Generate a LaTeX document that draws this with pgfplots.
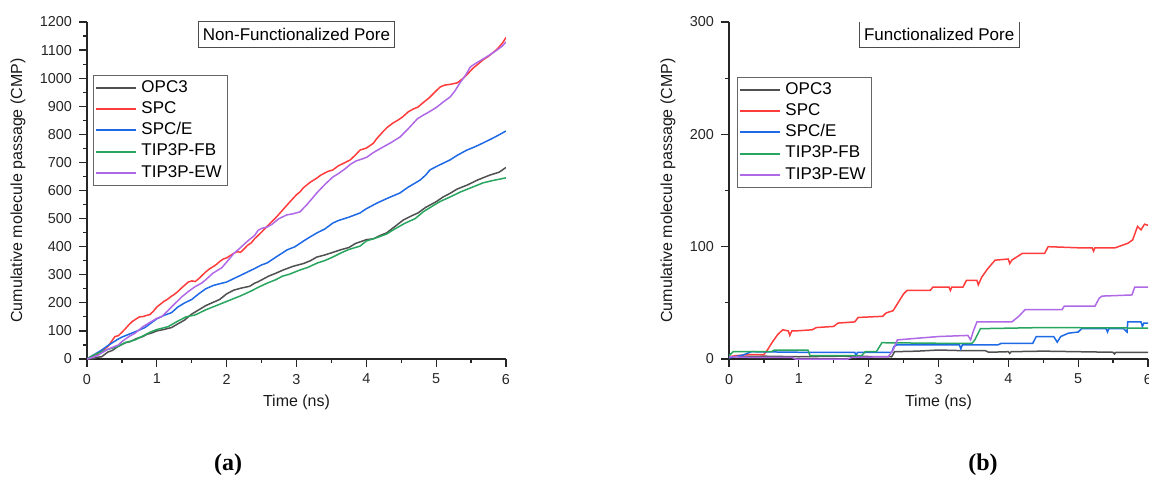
\documentclass[border=0pt]{standalone}
\usepackage{fontspec}
\setmainfont{Liberation Sans}
\newfontfamily\seriffont{Liberation Serif}
\usepackage{pgfplots}
\pgfplotsset{compat=1.18}
\definecolor{cOPC}{RGB}{80,80,80}
\definecolor{cSPC}{RGB}{255,60,60}
\definecolor{cSPCE}{RGB}{30,105,230}
\definecolor{cFB}{RGB}{40,165,95}
\definecolor{cEW}{RGB}{175,105,230}
\pgfplotsset{
 myax/.style={
  scale only axis, width=209.5pt, height=168.5pt,
  xmin=0, xmax=6, ymin=0,
  axis x line*=bottom, axis y line*=left,
  axis line style={line width=0.7pt, black!85},
  tick style={line width=0.6pt, black!85},
  tick align=outside, major tick length=4pt, minor tick length=2pt,
  xtick={0,...,6}, minor x tick num=1, minor y tick num=1,
  tick label style={font=\fontsize{7.2}{8}\selectfont, text=black!85},
  /pgf/number format/assume math mode=true,
  /pgf/number format/1000 sep={},
  xlabel={Time (ns)}, ylabel={Cumulative molecule passage (CMP)},
  label style={font=\fontsize{8}{9}\selectfont, text=black!90},
  xlabel style={at={(axis description cs:0.5,-0.128)}, anchor=center},
  legend cell align=left,
  legend image code/.code={\draw[##1, line width=1pt] (0pt,0pt) -- (20pt,0pt);},
  legend style={anchor=north west, draw=black!60, line width=0.5pt,
     font=\fontsize{8.5}{9}\selectfont, inner xsep=1pt, inner ysep=0.5pt,
     row sep=-0.9pt},
  every axis plot/.append style={line width=0.75pt, mark=none},
 }
}
\begin{document}
\begin{tikzpicture}
\useasboundingbox (0,0) rectangle (574.5pt,238.5pt);
% ---------------- (a)
\begin{axis}[myax, at={(43.5pt,59pt)}, anchor=south west,
  ymax=1200, ytick={0,100,...,1200},
  ylabel style={at={(axis description cs:-0.165,0.5)}, anchor=center},
  legend style={at={(axis description cs:0.0143,0.843)}}]
\addplot[color=cOPC] coordinates {(0,0)(0.1,2)(0.14,6)(0.21,8)(0.3,25)(0.36,30)(0.44,44)(0.55,58)(0.62,62)(0.7,72)(0.8,80)(0.86,88)(0.93,93)(1.0,100)(1.1,105)(1.21,112)(1.3,125)(1.4,139)(1.45,150)(1.5,160)(1.6,175)(1.7,190)(1.79,200)(1.9,212)(2.0,232)(2.1,245)(2.2,252)(2.33,259)(2.4,270)(2.45,275)(2.6,295)(2.7,305)(2.81,317)(2.95,330)(3.1,340)(3.2,350)(3.29,363)(3.4,370)(3.5,378)(3.62,388)(3.75,397)(3.85,412)(3.91,417)(4.0,425)(4.1,428)(4.2,440)(4.29,449)(4.4,470)(4.53,495)(4.65,510)(4.74,520)(4.85,540)(5.0,560)(5.1,577)(5.2,590)(5.3,605)(5.45,620)(5.59,637)(5.7,648)(5.77,655)(5.9,665)(6.0,682)};
\addlegendentry{OPC3}
\addplot[color=cSPC] coordinates {(0,0)(0.05,5)(0.1,12)(0.15,18)(0.2,28)(0.25,35)(0.3,45)(0.35,62)(0.4,80)(0.45,83)(0.5,95)(0.55,108)(0.6,122)(0.65,134)(0.7,142)(0.75,150)(0.8,151)(0.85,155)(0.9,158)(0.95,170)(1.0,185)(1.05,195)(1.1,205)(1.15,212)(1.2,222)(1.25,230)(1.3,240)(1.35,252)(1.4,263)(1.45,274)(1.5,278)(1.55,276)(1.6,286)(1.65,298)(1.7,310)(1.75,320)(1.8,328)(1.85,336)(1.9,347)(1.95,356)(2.0,360)(2.05,368)(2.1,376)(2.15,382)(2.2,380)(2.25,392)(2.3,405)(2.35,413)(2.4,428)(2.5,452)(2.6,478)(2.7,502)(2.8,530)(2.9,558)(3.0,585)(3.05,595)(3.1,610)(3.2,630)(3.29,644)(3.35,655)(3.45,668)(3.52,673)(3.6,688)(3.7,700)(3.77,709)(3.85,728)(3.91,744)(4.0,751)(4.1,768)(4.15,785)(4.24,810)(4.3,825)(4.38,840)(4.45,850)(4.52,862)(4.6,880)(4.67,890)(4.74,897)(4.8,910)(4.9,930)(5.0,955)(5.06,969)(5.12,975)(5.2,978)(5.3,983)(5.39,1000)(5.45,1015)(5.53,1036)(5.6,1050)(5.67,1065)(5.75,1078)(5.81,1090)(5.88,1105)(5.95,1125)(6.0,1145)};
\addlegendentry{SPC}
\addplot[color=cSPCE] coordinates {(0,0)(0.05,8)(0.1,15)(0.2,30)(0.3,48)(0.44,70)(0.5,78)(0.6,88)(0.7,98)(0.83,112)(0.9,125)(1.0,143)(1.1,155)(1.21,165)(1.3,185)(1.4,200)(1.5,212)(1.6,232)(1.7,250)(1.81,262)(1.9,268)(2.0,274)(2.09,285)(2.2,298)(2.3,310)(2.4,322)(2.5,335)(2.58,342)(2.7,362)(2.8,378)(2.86,388)(2.98,400)(3.1,420)(3.19,434)(3.3,450)(3.4,462)(3.52,484)(3.6,493)(3.75,505)(3.91,520)(4.0,535)(4.15,555)(4.3,572)(4.48,591)(4.6,612)(4.77,637)(4.85,655)(4.91,673)(5.0,685)(5.1,697)(5.2,709)(5.3,725)(5.44,744)(5.55,755)(5.67,769)(5.8,785)(5.9,798)(6.0,812)};
\addlegendentry{SPC/E}
\addplot[color=cFB] coordinates {(0,0)(0.08,12)(0.16,21)(0.25,30)(0.35,38)(0.45,45)(0.54,58)(0.69,68)(0.8,82)(0.9,95)(1.0,105)(1.16,115)(1.3,135)(1.42,150)(1.55,157)(1.7,175)(1.8,185)(1.93,198)(2.05,210)(2.2,225)(2.35,242)(2.45,255)(2.58,270)(2.7,282)(2.8,295)(2.9,302)(3.05,317)(3.15,325)(3.3,342)(3.4,350)(3.52,363)(3.64,378)(3.75,390)(3.91,402)(4.0,420)(4.15,432)(4.29,445)(4.4,462)(4.55,483)(4.7,500)(4.82,525)(4.95,545)(5.05,560)(5.2,577)(5.35,595)(5.5,610)(5.6,620)(5.67,627)(5.8,635)(5.9,640)(6.0,645)};
\addlegendentry{TIP3P-FB}
\addplot[color=cEW] coordinates {(0,0)(0.05,3)(0.1,8)(0.15,12)(0.2,20)(0.3,35)(0.4,45)(0.45,50)(0.5,62)(0.6,80)(0.69,92)(0.8,115)(0.9,130)(1.0,145)(1.07,151)(1.15,170)(1.25,195)(1.36,222)(1.45,240)(1.55,258)(1.64,270)(1.7,282)(1.8,305)(1.93,325)(2.0,345)(2.1,375)(2.2,397)(2.3,420)(2.4,440)(2.45,458)(2.5,465)(2.58,470)(2.65,480)(2.75,500)(2.86,513)(2.95,517)(3.05,524)(3.15,550)(3.29,591)(3.4,620)(3.52,648)(3.6,660)(3.7,678)(3.77,693)(3.85,705)(3.95,713)(4.01,719)(4.1,735)(4.24,755)(4.35,770)(4.48,790)(4.6,820)(4.73,855)(4.8,866)(4.9,880)(5.01,897)(5.1,915)(5.2,933)(5.27,955)(5.34,983)(5.42,1010)(5.49,1040)(5.55,1050)(5.67,1068)(5.75,1080)(5.87,1100)(5.95,1115)(6.0,1129)};
\addlegendentry{TIP3P-EW}
\node[draw=black!70, fill=white, font=\fontsize{8.5}{10}\selectfont, inner xsep=2.3pt, minimum height=12pt] at (axis cs:3,1157) {Non-Functionalized Pore};
\end{axis}
% ---------------- (b)
\begin{axis}[myax, at={(364.5pt,59pt)}, anchor=south west,
  ymax=300, ytick={0,100,200,300},
  ylabel style={at={(axis description cs:-0.1456,0.5)}, anchor=center},
  legend style={at={(axis description cs:0.019,0.837)}}]
\addplot[color=cOPC] coordinates {(0,2)(0.5,2.5)(1.0,2)(1.6,2.5)(2.33,2)(2.37,6.5)(2.7,7)(3.0,8)(3.3,7.5)(3.67,7.4)(3.72,6)(4.0,6.5)(4.02,5)(4.04,6.5)(4.5,7)(5.0,6.5)(5.5,6)(5.52,4.5)(5.54,6)(6.0,6)};
\addlegendentry{OPC3}
\addplot[color=cSPC] coordinates {(0,2)(0.1,3)(0.3,4)(0.5,4)(0.55,8)(0.62,15)(0.7,22)(0.77,26)(0.85,25)(0.87,21)(0.9,25)(0.95,25)(1.19,26)(1.25,28)(1.5,29)(1.56,32)(1.8,33)(1.85,37)(2.2,38)(2.25,41)(2.35,43)(2.42,50)(2.5,58)(2.55,61)(2.88,61)(2.92,64)(3.15,64)(3.17,61)(3.19,64)(3.35,64)(3.4,70)(3.55,70)(3.57,66)(3.62,73)(3.7,80)(3.81,88)(4.0,89)(4.02,85)(4.05,88)(4.2,94)(4.52,94)(4.57,100)(5.0,99)(5.2,99)(5.22,96)(5.24,99)(5.53,99)(5.71,103)(5.78,106)(5.85,118)(5.9,115)(5.95,120)(6.0,119)};
\addlegendentry{SPC}
\addplot[color=cSPCE] coordinates {(0,1)(0.2,3.5)(0.32,6.5)(1.0,6)(1.8,6)(1.82,3)(1.84,6)(2.33,6)(2.36,11)(2.4,12.5)(3.0,12.5)(3.3,12.5)(3.32,9)(3.34,12.5)(3.85,12.5)(3.9,14)(4.35,14)(4.4,20)(4.65,20)(4.7,15)(4.75,20)(4.86,23)(5.0,24)(5.05,27)(5.4,27)(5.42,24)(5.44,27)(5.65,27)(5.7,24)(5.71,33)(5.9,33)(5.92,29)(5.94,32)(6.0,32)};
\addlegendentry{SPC/E}
\addplot[color=cFB] coordinates {(0,3)(0.06,6.5)(0.61,6.5)(0.65,8)(1.13,8)(1.16,3)(1.9,3)(1.95,6.5)(2.11,6.5)(2.19,14.5)(3.0,14)(3.48,14)(3.52,17)(3.6,27)(4.5,28)(6.0,27.5)};
\addlegendentry{TIP3P-FB}
\addplot[color=cEW] coordinates {(0,2)(0.3,1.5)(0.9,1.5)(0.95,0)(1.7,0)(1.76,1.5)(2.28,2)(2.35,8)(2.41,17)(2.6,18)(3.0,20)(3.42,21)(3.46,17)(3.5,25)(3.55,33)(4.05,33)(4.15,38)(4.24,44)(4.77,44)(4.8,47)(5.24,47)(5.3,54)(5.34,56)(5.77,57)(5.81,64)(6.0,64)};
\addlegendentry{TIP3P-EW}
\node[draw=black!70, fill=white, font=\fontsize{8.5}{10}\selectfont, inner xsep=2.3pt, minimum height=12pt] at (axis cs:3.01,289) {Functionalized Pore};
\end{axis}
\node[font=\seriffont\bfseries\fontsize{12}{14}\selectfont] at (114pt,6pt) {(a)};
\node[font=\seriffont\bfseries\fontsize{12}{14}\selectfont] at (491.5pt,6pt) {(b)};
\end{tikzpicture}
\end{document}
